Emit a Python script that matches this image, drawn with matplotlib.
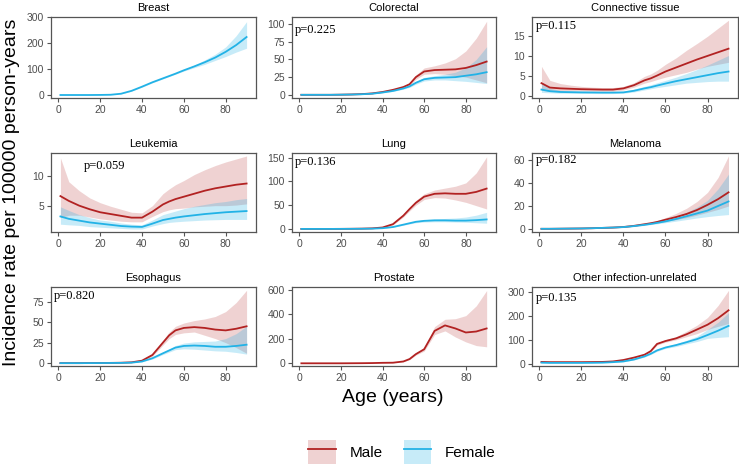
import matplotlib
matplotlib.use("Agg")
import matplotlib.pyplot as plt
from matplotlib.patches import Patch
from matplotlib.lines import Line2D

plt.rcParams['font.family'] = ['Liberation Sans', 'DejaVu Sans']

# --- data (age in years, rate per 100000) ---
AGE = [1, 5, 10, 15, 20, 25, 30, 35, 40, 45, 50, 53, 56, 60, 65, 70, 75, 80, 85, 90]

BREAST_F = [0, 0, 0, 0, 0.3, 1, 5, 16, 32, 49, 64, 73, 82, 95, 110, 126, 144, 166, 192, 223]
BREAST_F_LO = [0, 0, 0, 0, 0.2, 0.8, 4.4, 15, 30, 47, 62, 71, 80, 92, 105, 118, 133, 148, 165, 180]
BREAST_F_HI = [0, 0, 0, 0, 0.4, 1.2, 5.6, 17, 34, 51, 66, 75, 84, 98, 115, 135, 157, 185, 228, 282]

COLO_M = [0, 0, 0, 0, 0.2, 0.5, 1, 2, 4, 7, 11, 15, 25, 33, 35, 35.5, 36, 38, 42, 47]
COLO_M_LO = [0, 0, 0, 0, 0.1, 0.3, 0.7, 1.5, 3.2, 5.8, 9.5, 13, 22, 29, 30, 29, 27, 25, 21, 17]
COLO_M_HI = [0, 0, 0, 0, 0.3, 0.7, 1.3, 2.5, 4.8, 8.2, 12.5, 17, 28, 38, 41, 45, 51, 62, 80, 104]
COLO_F = [0, 0, 0, 0, 0.2, 0.4, 0.8, 1.6, 3.3, 5.5, 9, 12, 17, 22, 24, 24.5, 25, 27, 29, 32]
COLO_F_LO = [0, 0, 0, 0, 0.1, 0.3, 0.6, 1.3, 2.8, 4.8, 8, 10.5, 15, 19.5, 21, 21, 20, 19, 17.5, 16]
COLO_F_HI = [0, 0, 0, 0, 0.3, 0.5, 1, 1.9, 3.8, 6.2, 10, 13.5, 19, 24.5, 27, 29, 32, 38, 50, 68]

CONN_M = [3.3, 2.2, 2.0, 1.9, 1.8, 1.75, 1.7, 1.7, 2.0, 2.8, 4.0, 4.5, 5.2, 6.2, 7.2, 8.2, 9.2, 10.1, 11.0, 11.9]
CONN_M_LO = [1.5, 1.3, 1.4, 1.4, 1.4, 1.35, 1.3, 1.3, 1.6, 2.3, 3.3, 3.7, 4.2, 4.8, 5.4, 6.0, 6.8, 7.5, 8.0, 8.5]
CONN_M_HI = [7.5, 4.0, 3.2, 2.8, 2.5, 2.3, 2.2, 2.2, 2.5, 3.4, 5.0, 5.6, 6.5, 8.0, 9.6, 11.5, 13.2, 15.0, 17.0, 19.0]
CONN_F = [1.7, 1.3, 1.1, 1.05, 1.0, 0.98, 0.95, 0.95, 1.0, 1.4, 2.0, 2.3, 2.7, 3.2, 3.8, 4.3, 4.8, 5.3, 5.8, 6.2]
CONN_F_LO = [1.0, 0.9, 0.8, 0.78, 0.75, 0.72, 0.7, 0.7, 0.8, 1.1, 1.6, 1.9, 2.2, 2.5, 2.9, 3.3, 3.5, 3.7, 3.8, 3.8]
CONN_F_HI = [3.5, 2.0, 1.5, 1.4, 1.3, 1.25, 1.2, 1.2, 1.3, 1.8, 2.5, 2.9, 3.4, 4.0, 4.8, 5.7, 6.7, 7.8, 9.0, 10.2]

LEUK_M = [6.6, 5.8, 5.0, 4.4, 3.9, 3.6, 3.3, 3.0, 3.0, 4.0, 5.2, 5.7, 6.1, 6.5, 7.0, 7.5, 7.9, 8.2, 8.5, 8.7]
LEUK_M_LO = [3.0, 3.4, 3.4, 3.1, 2.8, 2.6, 2.4, 2.3, 2.3, 3.2, 4.0, 4.3, 4.5, 4.6, 4.8, 4.9, 5.0, 5.0, 5.1, 5.3]
LEUK_M_HI = [13.0, 9.0, 7.5, 6.3, 5.5, 4.9, 4.4, 3.9, 3.8, 5.0, 7.0, 7.8, 8.5, 9.2, 10.2, 11.0, 11.7, 12.3, 12.8, 13.3]
LEUK_F = [3.2, 2.8, 2.5, 2.2, 2.0, 1.8, 1.6, 1.5, 1.45, 2.0, 2.6, 2.8, 3.0, 3.2, 3.4, 3.6, 3.75, 3.9, 4.0, 4.1]
LEUK_F_LO = [1.9, 1.8, 1.7, 1.5, 1.4, 1.3, 1.2, 1.1, 1.1, 1.6, 2.0, 2.2, 2.3, 2.4, 2.5, 2.6, 2.65, 2.7, 2.7, 2.7]
LEUK_F_HI = [4.8, 4.2, 3.5, 3.0, 2.6, 2.4, 2.1, 1.9, 1.8, 2.6, 3.5, 3.8, 4.1, 4.5, 4.9, 5.2, 5.5, 5.7, 6.0, 6.2]

LUNG_M = [0, 0, 0, 0, 0.1, 0.3, 0.6, 1.2, 3, 10, 28, 42, 55, 68, 74, 75, 74, 74, 78, 85]
LUNG_M_LO = [0, 0, 0, 0, 0.05, 0.2, 0.4, 0.9, 2.4, 8.5, 25, 38, 50, 62, 66, 65, 61, 56, 49, 42]
LUNG_M_HI = [0, 0, 0, 0, 0.15, 0.4, 0.8, 1.5, 3.6, 11.5, 31, 46, 60, 74, 82, 86, 90, 97, 118, 152]
LUNG_F = [0, 0, 0, 0, 0.05, 0.15, 0.3, 0.6, 1.5, 4, 9, 12, 15, 17, 18, 18, 17.5, 17.5, 18.5, 20]
LUNG_F_LO = [0, 0, 0, 0, 0.03, 0.1, 0.2, 0.4, 1.2, 3.3, 7.8, 10.5, 13, 14.5, 15, 15, 14.5, 14, 13, 12]
LUNG_F_HI = [0, 0, 0, 0, 0.08, 0.2, 0.4, 0.8, 1.8, 4.7, 10.2, 13.5, 17, 19.5, 21, 22, 23, 25, 29, 35]

MEL_M = [0, 0, 0.1, 0.2, 0.3, 0.5, 0.8, 1.1, 1.6, 2.6, 4, 4.9, 6.0, 8, 10.3, 13, 16.5, 21, 26, 32]
MEL_M_LO = [0, 0, 0.05, 0.1, 0.2, 0.35, 0.6, 0.9, 1.3, 2.2, 3.4, 4.2, 5.1, 6.6, 8.0, 9.8, 12, 14.5, 17, 20]
MEL_M_HI = [0, 0, 0.15, 0.3, 0.4, 0.65, 1.0, 1.3, 1.9, 3.0, 4.7, 5.8, 7.1, 9.8, 13.5, 18, 24, 32, 45, 64]
MEL_F = [0, 0, 0.1, 0.2, 0.3, 0.5, 0.8, 1.1, 1.5, 2.4, 3.5, 4.3, 5.2, 6.5, 8.6, 11, 13.5, 16, 20, 24]
MEL_F_LO = [0, 0, 0.05, 0.1, 0.2, 0.35, 0.6, 0.9, 1.2, 2.0, 3.0, 3.7, 4.4, 5.4, 6.7, 8.1, 9.5, 10.7, 11.7, 12.5]
MEL_F_HI = [0, 0, 0.15, 0.3, 0.4, 0.65, 1.0, 1.3, 1.8, 2.8, 4.1, 5.0, 6.1, 7.8, 10.8, 14.5, 19, 25, 35, 48]

ESO_M = [0, 0, 0, 0.1, 0.2, 0.3, 0.5, 1, 3, 10, 25, 34, 40, 43, 44, 43, 41, 40, 42, 45]
ESO_M_LO = [0, 0, 0, 0.05, 0.1, 0.2, 0.4, 0.8, 2.5, 8.5, 22, 30, 35, 37, 38, 34, 30, 25, 19, 12]
ESO_M_HI = [0, 0, 0, 0.15, 0.3, 0.4, 0.6, 1.2, 3.5, 11.5, 28, 38, 45, 49, 52, 54, 57, 63, 74, 89]
ESO_F = [0, 0, 0, 0.05, 0.1, 0.2, 0.3, 0.6, 2, 6, 12, 15.5, 19, 21, 21.5, 21, 20, 20, 21, 22.5]
ESO_F_LO = [0, 0, 0, 0.03, 0.05, 0.1, 0.2, 0.4, 1.6, 5, 10.5, 13.5, 16.5, 17.5, 17, 16, 15, 14.5, 13, 11]
ESO_F_HI = [0, 0, 0, 0.08, 0.15, 0.3, 0.4, 0.8, 2.4, 7, 13.5, 17.5, 21.5, 24.5, 26, 26.5, 27, 30, 36, 45]

PROS_M = [0, 0, 0, 0, 0, 0.5, 1, 2, 4, 5, 15, 35, 75, 115, 265, 310, 285, 252, 260, 285]
PROS_M_LO = [0, 0, 0, 0, 0, 0.4, 0.8, 1.6, 3.2, 4, 13, 30, 67, 100, 235, 265, 215, 175, 145, 135]
PROS_M_HI = [0, 0, 0, 0, 0, 0.6, 1.2, 2.4, 4.8, 6, 17, 40, 83, 130, 300, 360, 365, 390, 470, 595]

OTH_M = [10, 9, 9, 9, 9, 9.5, 10, 12, 18, 28, 40, 55, 85, 97, 108, 125, 145, 165, 192, 225]
OTH_M_LO = [8, 8, 8, 8, 8, 8.5, 9, 11, 16, 26, 37, 52, 80, 92, 102, 115, 128, 145, 158, 170]
OTH_M_HI = [12, 10, 10, 10, 10, 10.5, 11, 13, 20, 30, 43, 58, 90, 103, 115, 138, 163, 195, 245, 308]
OTH_F = [7, 6, 6, 6, 6, 6.3, 7, 9, 12, 20, 33, 44, 58, 70, 80, 92, 105, 122, 140, 160]
OTH_F_LO = [6, 5.5, 5.5, 5.5, 5.5, 5.8, 6.3, 8, 11, 18, 30, 41, 54, 66, 74, 85, 95, 108, 112, 115]
OTH_F_HI = [8, 6.5, 6.5, 6.5, 6.5, 6.8, 7.7, 10, 13, 22, 36, 47, 62, 75, 86, 100, 117, 145, 175, 215]

TITLES = ["Breast", "Colorectal", "Connective tissue",
          "Leukemia", "Lung", "Melanoma",
          "Esophagus", "Prostate", "Other infection-unrelated"]
P_LABELS = [None, "p=0.225", "p=0.115", "p=0.059", "p=0.136", "p=0.182",
            "p=0.820", None, "p=0.135"]
P_POS = [None, (8, 92), (8, 17.6), (22, 11.7), (8, 140), (8, 60),
         (8, 82.6), None, (8, 277)]
YTICKS = [[0, 100, 200, 300], [0, 25, 50, 75, 100], [0, 5, 10, 15],
          [5, 10], [0, 50, 100, 150], [0, 20, 40, 60],
          [0, 25, 50, 75], [0, 200, 400, 600], [0, 100, 200, 300]]
YLIMS = [(-11.5, 299), (-4.5, 110), (-0.4, 19.8),
         (0.6, 13.8), (-6.5, 160), (-2.8, 66.5),
         (-3.5, 93), (-22, 624), (-7, 322)]

MALE = [None, (COLO_M, COLO_M_LO, COLO_M_HI), (CONN_M, CONN_M_LO, CONN_M_HI),
        (LEUK_M, LEUK_M_LO, LEUK_M_HI), (LUNG_M, LUNG_M_LO, LUNG_M_HI),
        (MEL_M, MEL_M_LO, MEL_M_HI), (ESO_M, ESO_M_LO, ESO_M_HI),
        (PROS_M, PROS_M_LO, PROS_M_HI), (OTH_M, OTH_M_LO, OTH_M_HI)]
FEMALE = [(BREAST_F, BREAST_F_LO, BREAST_F_HI), (COLO_F, COLO_F_LO, COLO_F_HI),
          (CONN_F, CONN_F_LO, CONN_F_HI), (LEUK_F, LEUK_F_LO, LEUK_F_HI),
          (LUNG_F, LUNG_F_LO, LUNG_F_HI), (MEL_F, MEL_F_LO, MEL_F_HI),
          (ESO_F, ESO_F_LO, ESO_F_HI), None, (OTH_F, OTH_F_LO, OTH_F_HI)]

MALE_COL = "#B22222"
FEMALE_COL = "#22B2E6"
AX_COL = "#555555"

W, H = 739, 467
fig = plt.figure(figsize=(W / 100, H / 100), dpi=100)

# panel boxes in pixels: (left, right), (top, bottom)
cols = [(51, 256), (292, 496), (532, 738)]
rows = [(17, 98), (153, 232), (287, 366)]

for i in range(9):
    (x0, x1), (y0, y1) = cols[i % 3], rows[i // 3]
    ax = fig.add_axes([x0 / W, 1 - y1 / H, (x1 - x0) / W, (y1 - y0) / H])

    # male first, female ribbon drawn over it (as in the original)
    if MALE[i] is not None:
        m, lo, hi = MALE[i]
        ax.fill_between(AGE, lo, hi, color=MALE_COL, alpha=0.2, lw=0)
        ax.plot(AGE, m, color=MALE_COL, lw=1.3)
    if FEMALE[i] is not None:
        f, lo, hi = FEMALE[i]
        ax.fill_between(AGE, lo, hi, color=FEMALE_COL, alpha=0.25, lw=0)
        ax.plot(AGE, f, color=FEMALE_COL, lw=1.3)

    ax.set_xlim(-3.5, 94.5)
    ax.set_ylim(*YLIMS[i])
    ax.set_xticks([0, 20, 40, 60, 80])
    ax.set_yticks(YTICKS[i])
    ax.tick_params(colors=AX_COL, labelcolor="#4D4D4D", labelsize=7.5,
                   length=3, width=0.8, pad=2)
    for s in ax.spines.values():
        s.set_color(AX_COL)
        s.set_linewidth(0.9)
    ax.set_title(TITLES[i], fontsize=8, pad=4)

    if P_LABELS[i]:
        px, py = P_POS[i]
        ax.text(px, py, P_LABELS[i], family="Liberation Serif", fontsize=9,
                ha="center", va="center")

fig.text(393 / W, 1 - 398 / H, "Age (years)", fontsize=14, ha="center", va="center")
fig.text(12 / W, 1 - 192 / H, "Incidence rate per 100000 person-years",
         fontsize=14, rotation=90, ha="center", va="center")

handles = [(Patch(facecolor=MALE_COL, alpha=0.2, lw=0), Line2D([], [], color=MALE_COL, lw=1.3)),
           (Patch(facecolor=FEMALE_COL, alpha=0.25, lw=0), Line2D([], [], color=FEMALE_COL, lw=1.3))]
fig.legend(handles, ["Male", "Female"], loc="center",
           bbox_to_anchor=(402 / W, 1 - 452 / H), ncol=2, frameon=False,
           fontsize=11, handlelength=1.8, handleheight=2.0, handletextpad=0.9,
           columnspacing=1.4)

fig.savefig("out.png", dpi=100)
